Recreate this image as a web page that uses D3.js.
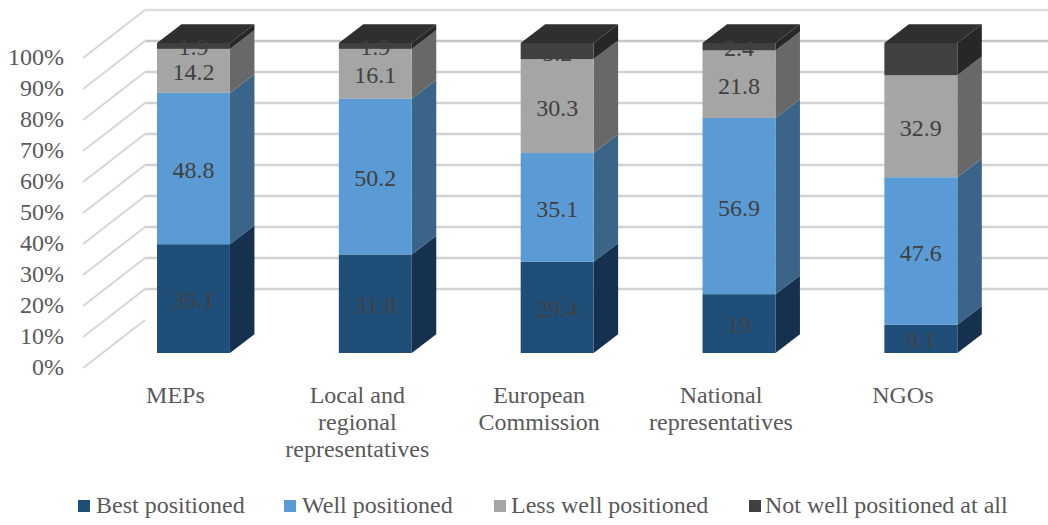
<!DOCTYPE html>
<html><head><meta charset="utf-8">
<script src="https://cdn.jsdelivr.net/npm/d3@7"></script>
<style>html,body{margin:0;padding:0;background:#fff}svg{display:block}text{font-family:"Liberation Serif",serif}</style>
</head><body><svg id="c" width="1048" height="525"></svg>
<script>
const categories=["MEPs","Local and|regional|representatives","European|Commission","National|representatives","NGOs"];
const seriesNames=["Best positioned","Well positioned","Less well positioned","Not well positioned at all"];
const best=[35.1,31.8,29.4,19,9.1];
const well=[48.8,50.2,35.1,56.9,47.6];
const less=[14.2,16.1,30.3,21.8,32.9];
const notWell=[1.9,1.9,5.2,2.4,10.4];
const ticks=[0,10,20,30,40,50,60,70,80,90,100];
const front=["#1f4e79","#5b9bd5","#a5a5a5","#404040"];
const side=["#15314f","#3a6488","#686868","#272727"];
const topFace=["#15314f","#3a6488","#686868","#2f2f2f"];
const svg=d3.select("#c");
const y=d3.scaleLinear().domain([0,100]).range([353,43]);
const x=d3.scaleBand().domain(d3.range(5)).range([157,957.3]).paddingInner(109/182).paddingOuter(0);
const dx=24.5,dy=-18.7;
const wallDY=-33;
const g=svg.append("g");
ticks.forEach(t=>{
  const yy=y(t)+wallDY;
  if(t!==0) g.append("line").attr("x1",145).attr("x2",1048).attr("y1",yy).attr("y2",yy).attr("stroke",t===100?"#e0e0e0":t===90?"#c6c6c6":"#d2d2d2").attr("stroke-width",2.6);
  g.append("line").attr("x1",83).attr("y1",yy+48).attr("x2",145).attr("y2",yy).attr("stroke","#d6d6d6").attr("stroke-width",2);
  svg.append("text").attr("x",64).attr("y",yy+54.5).attr("text-anchor","end").attr("font-size",24).attr("fill","#595959").text(t+"%");
});
const data=[best,well,less,notWell];
const stack=d3.stack().keys([0,1,2,3]).value((d,k)=>data[k][d]).offset(d3.stackOffsetExpand)(d3.range(5));
categories.forEach((c,i)=>{
  const x0=x(i),w=x.bandwidth(),bg=svg.append("g");
  stack.forEach((s,k)=>{
    const a=y(s[i][0]*100),b=y(s[i][1]*100);
    bg.append("polygon").attr("points",[[x0+w,a],[x0+w+dx,a+dy],[x0+w+dx,b+dy],[x0+w,b]].join(" ")).attr("fill",side[k]);
    bg.append("rect").attr("x",x0).attr("y",b).attr("width",w).attr("height",a-b).attr("fill",front[k]);
    if(k===3) bg.append("polygon").attr("points",[[x0,b],[x0+dx,b+dy],[x0+w+dx,b+dy],[x0+w,b]].join(" ")).attr("fill",topFace[k]);
  });
  stack.forEach((s,k)=>{
    const a=y(s[i][0]*100),b=y(s[i][1]*100);
    bg.append("text").attr("x",x0+w/2).attr("y",(a+b)/2+9.5).attr("text-anchor","middle").attr("font-size",24).attr("fill","#404040").text(data[k][i]);
  });
  c.split("|").forEach((l,n)=>svg.append("text").attr("x",x0+w/2-18).attr("y",403+n*27).attr("text-anchor","middle").attr("font-size",24).attr("fill","#595959").text(l));
});
const legendSwatch=[78,284,494,749];
const legendText=[96,302,511,765];
seriesNames.forEach((n,k)=>{
  svg.append("rect").attr("x",legendSwatch[k]).attr("y",500).attr("width",12).attr("height",12).attr("fill",front[k]);
  svg.append("text").attr("x",legendText[k]).attr("y",513).attr("font-size",24).attr("fill","#595959").text(n);
});
</script></body></html>
